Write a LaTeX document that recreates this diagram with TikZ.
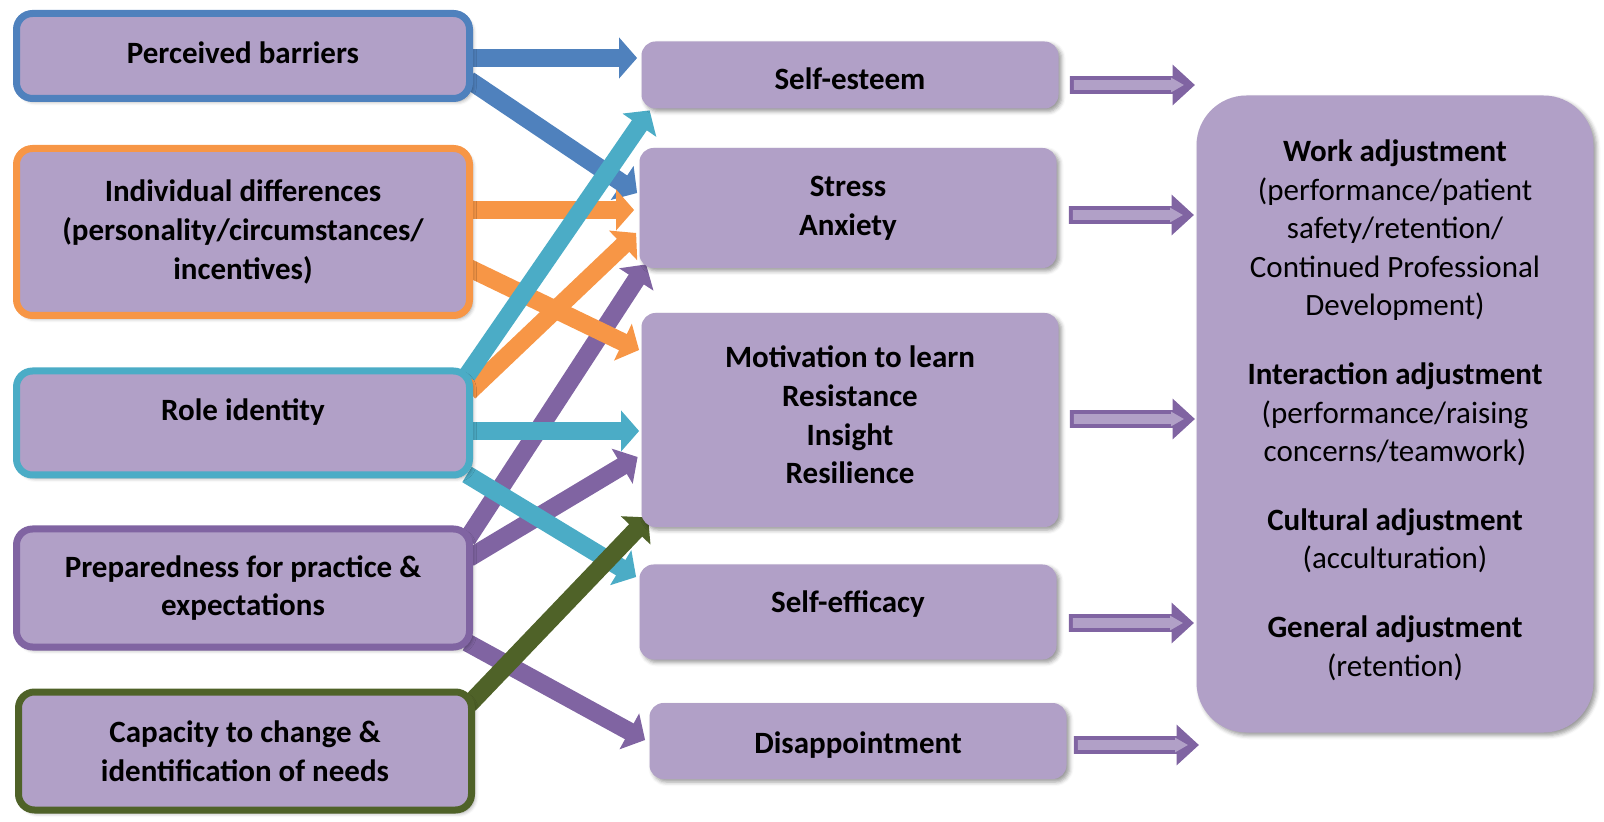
\documentclass[tikz,border=0pt]{standalone}
\usepackage{fontspec}
\setmainfont{Carlito}
\usetikzlibrary{arrows.meta, positioning, calc, shapes.arrows, shadows.blur, backgrounds}

\definecolor{lavender}{HTML}{B1A0C7}
\definecolor{barblue}{HTML}{4F81BD}
\definecolor{difforange}{HTML}{F79646}
\definecolor{rolecyan}{HTML}{4BACC6}
\definecolor{prepviolet}{HTML}{8064A2}
\definecolor{capgreen}{HTML}{4F6228}

\begin{document}
\begin{tikzpicture}[x=0.5pt, y=-0.5pt]
	\tikzset{
		box/.style={rectangle, rounded corners=7pt, fill=lavender, align=center, inner sep=0pt,
			font=\fontsize{15.5pt}{19.3pt}\selectfont\bfseries,
			blur shadow={shadow xshift=1.5pt, shadow yshift=-1.5pt, shadow blur radius=2pt}},
		factor/.style={box, line width=3.5pt, minimum width=226.5pt, rounded corners=8pt},
		outcome/.style={box, minimum width=208.5pt},
		link/.style={line width=9pt, -{Triangle[width=20pt, length=9pt]}},
		outarrow/.style={single arrow, fill=prepviolet, inner xsep=0pt, inner ysep=4.25pt,
			minimum height=62.5pt, single arrow head extend=5.75pt, single arrow tip angle=85},
		arrowcore/.style={single arrow, fill=lavender, inner xsep=0pt, inner ysep=2.25pt, anchor=tail,
			minimum height=55pt, single arrow head extend=1.25pt, single arrow tip angle=60}
	}
	\useasboundingbox (0,0) rectangle (1604,822);

	% influencing factors
	\node[factor, draw=barblue, minimum height=42.5pt] (pb) at (243,56) {\raisebox{1.5pt}[\height][\depth]{Perceived barriers}};
	\node[factor, draw=difforange, minimum height=83.5pt] (id) at (243,232) {Individual differences\\(personality/circumstances/\\incentives)};
	\node[factor, draw=rolecyan, minimum height=52pt] (ri) at (243,423) {\raisebox{5.5pt}[\height][\depth]{Role identity}};
	\node[factor, draw=prepviolet, minimum height=59pt] (pp) at (243,588) {Preparedness for practice \&\\expectations};
	\node[factor, draw=capgreen, minimum height=59pt] (cc) at (245,751) {Capacity to change \&\\identification of needs};

	% responses
	\node[outcome, minimum height=33.5pt] (se) at (850,75) {\raisebox{-2pt}[\height][\depth]{Self-esteem}};
	\node[outcome, minimum height=60pt] (sa) at (848,208) {Stress\\Anxiety};
	\node[outcome, minimum height=107pt] (mr) at (850,420) {Motivation to learn\\Resistance\\Insight\\Resilience\\[-14.3pt]\mbox{}};
	\node[outcome, minimum height=47.5pt] (ef) at (848,612) {\raisebox{4pt}[\height][\depth]{Self-efficacy}};
	\node[outcome, minimum height=38pt] (dis) at (858,741) {\raisebox{-2pt}[\height][\depth]{Disappointment}};

	% adjustment outcomes
	\node[box, minimum width=198.5pt, minimum height=318.5pt, rounded corners=25pt,
		font=\fontsize{15.5pt}{19.3pt}\selectfont] (adj) at (1395,414)
		{\textbf{Work adjustment}\\(performance/patient\\safety/retention/\\Continued Professional\\Development)\\[15pt]
		 \textbf{Interaction adjustment}\\(performance/raising\\concerns/teamwork)\\[15pt]
		 \textbf{Cultural adjustment}\\(acculturation)\\[15pt]
		 \textbf{General adjustment}\\(retention)\\[-13.3pt]\mbox{}};

	\node[outarrow] (o1) at ($(se.east)!0.5!(adj.west |- se.east)+(0,10)$) {};
	\node[outarrow] (o2) at ($(sa.east)!0.5!(adj.west |- sa.east)+(0,7)$) {};
	\node[outarrow] (o3) at ($(mr.east)!0.5!(adj.west |- mr.east)+(0,-1)$) {};
	\node[outarrow] (o4) at ($(ef.east)!0.5!(adj.west |- ef.east)+(0,11)$) {};
	\node[outarrow] (o5) at ($(dis.east)!0.5!(adj.west |- dis.east)+(0,4)$) {};
	\foreach \o in {o1,o2,o3,o4,o5}
		\node[arrowcore] at ([xshift=2pt]\o.tail) {};

	\begin{pgfonlayer}{background}
		\draw[link, prepviolet] ($(pp.north east)+(-6,14)$) -- ($(sa.south west)+(7,-4)$);
		\draw[link, prepviolet] ($(pp.east)+(-4,-30)$) -- ($(mr.west)+(-3.5,37)$);
		\draw[link, prepviolet] ($(pp.south east)+(-6,-8)$) -- ($(dis.west)+(-4,-1)$);

		\draw[link, barblue] ($(pb.east)+(-4,2)$) -- ($(se.west)+(-4,-17)$);
		\draw[link, barblue] ($(pb.east)+(-4,24)$) -- ($(sa.west)+(-2,-15)$);

		\draw[link, difforange] ($(id.east)+(-4,36)$) -- ($(mr.west)+(-2,-70)$);
		\draw[link, difforange] ($(ri.east)+(-4,-31)$) -- ($(sa.west)+(-3,25)$);
		\draw[link, difforange] ($(id.east)+(-4,-22)$) -- ($(sa.west)+(-5,2)$);

		\draw[link, rolecyan] ($(ri.north east)+(-6,8)$) -- ($(se.south west)+(8.5,1.5)$);
		\draw[link, rolecyan] ($(ri.east)+(-4,8)$) -- ($(mr.west)+(-2,11)$);
		\draw[link, rolecyan] ($(ri.south east)+(-6,-4)$) -- ($(ef.west)+(-3,-35)$);

		\draw[link, capgreen] ($(cc.north east)+(-6,16)$) -- ($(mr.south west)+(7,-10)$);
	\end{pgfonlayer}
\end{tikzpicture}
\end{document}
